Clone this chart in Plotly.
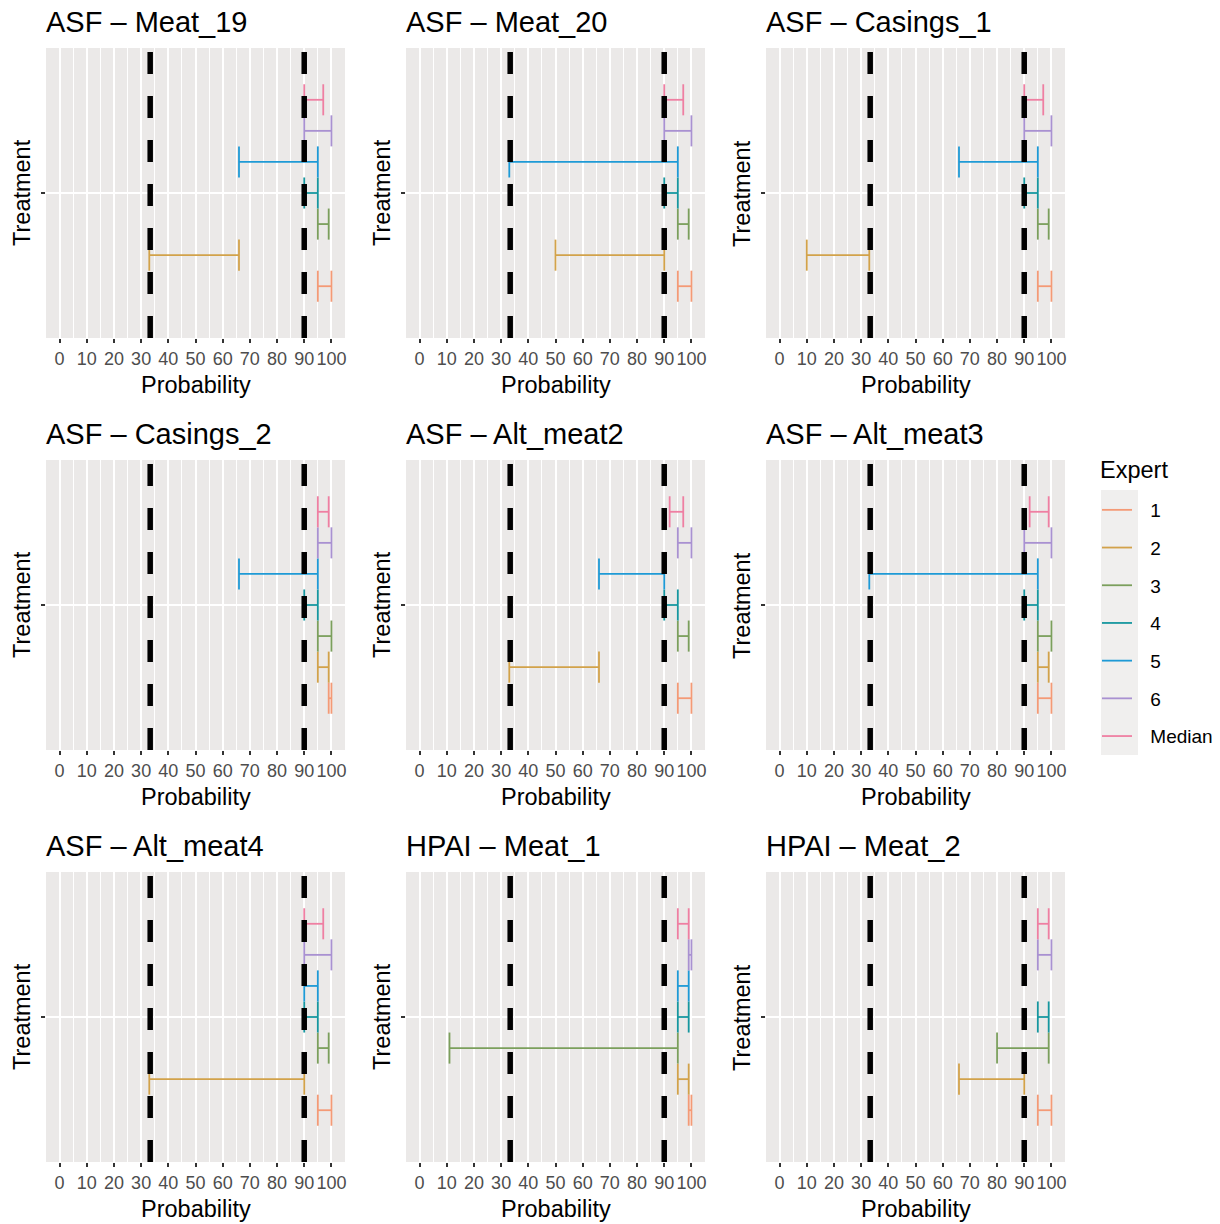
import plotly.graph_objects as go

# ---------------- data ----------------
panels = ["ASF – Meat_19", "ASF – Meat_20", "ASF – Casings_1",
          "ASF – Casings_2", "ASF – Alt_meat2", "ASF – Alt_meat3",
          "ASF – Alt_meat4", "HPAI – Meat_1", "HPAI – Meat_2"]
experts = ["1", "2", "3", "4", "5", "6", "Median"]
colors = ["#F49A76", "#D2A24A", "#7B9F5C", "#17979F", "#1E9AD6", "#A991D1", "#EF7FA2"]

low_1 = [95, 95, 95, 99, 95, 95, 95, 99, 95]
high_1 = [100, 100, 100, 100, 100, 100, 100, 100, 100]
low_2 = [33, 50, 10, 95, 33, 95, 33, 95, 66]
high_2 = [66, 90, 33, 99, 66, 99, 90, 99, 90]
low_3 = [95, 95, 95, 95, 95, 95, 95, 11, 80]
high_3 = [99, 99, 99, 100, 99, 100, 99, 95, 99]
low_4 = [90, 90, 90, 90, 90, 90, 90, 95, 95]
high_4 = [95, 95, 95, 95, 95, 95, 95, 99, 99]
low_5 = [66, 33, 66, 66, 66, 33, 90, 95, None]
high_5 = [95, 95, 95, 95, 90, 95, 95, 99, None]
low_6 = [90, 90, 90, 95, 95, 90, 90, 99, 95]
high_6 = [100, 100, 100, 100, 100, 100, 100, 100, 100]
low_med = [90, 90, 90, 95, 92, 92, 90, 95, 95]
high_med = [97, 97, 97, 99, 97, 99, 97, 99, 99]

thresholds = [33.33, 90]

lows = [low_1, low_2, low_3, low_4, low_5, low_6, low_med]
highs = [high_1, high_2, high_3, high_4, high_5, high_6, high_med]

# ---------------- layout geometry ----------------
# the page body adds an 8px margin, so work in page pixels and subtract it
OFF = 8
W, H = 1212, 1216
col_left = [46, 406, 766]
PW = 299
row_top = [48, 460, 872]
PH = 290
FONT = "Liberation Sans, Arial, sans-serif"
GAP = "\u2002\u2009"  # spacing between legend key and label


def px(xp):
    return (xp - OFF) / W


def py(yp):
    return 1 - (yp - OFF) / H


n = len(experts)
dodge = 0.9
slot = dodge / n

fig = go.Figure()
layout = dict(
    width=W, height=H, autosize=False,
    margin=dict(l=0, r=0, t=0, b=0),
    paper_bgcolor="white", plot_bgcolor="#EBE9E8",
    font=dict(family=FONT, color="black"),
    showlegend=True,
)
shapes = []
annotations = []

for p, title in enumerate(panels):
    r, c = divmod(p, 3)
    sfx = "" if p == 0 else str(p + 1)
    left = col_left[c]
    top = row_top[r]
    for k, e in enumerate(experts):
        lo = lows[k][p]
        hi = highs[k][p]
        if lo is None or hi is None:
            continue
        yc = 1 + (k - (n - 1) / 2) * slot
        xs = [lo, hi, None, lo, lo, None, hi, hi]
        ys = [yc, yc, None, yc - slot / 2, yc + slot / 2, None, yc - slot / 2, yc + slot / 2]
        fig.add_trace(go.Scatter(
            x=xs, y=ys, mode="lines",
            line=dict(color=colors[k], width=1.8),
            name=GAP + e, legendgroup=e, showlegend=(p == 0),
            xaxis="x" + sfx, yaxis="y" + sfx, hoverinfo="skip"))

    layout["xaxis" + sfx] = dict(
        domain=[px(left), px(left + PW)], anchor="y" + sfx,
        range=[-5, 105], tick0=0, dtick=10, tickmode="linear",
        ticks="outside", ticklen=4, tickwidth=1.5, tickcolor="#333333",
        tickfont=dict(size=18, color="#4D4D4D", family=FONT), tickangle=0,
        showgrid=True, gridcolor="white", gridwidth=1.6,
        minor=dict(tick0=0, dtick=5, showgrid=True, gridcolor="white", gridwidth=0.8, ticks=""),
        zeroline=False, showline=False, fixedrange=True)
    layout["yaxis" + sfx] = dict(
        domain=[py(top + PH), py(top)], anchor="x" + sfx,
        range=[0.4, 1.6], tickmode="array", tickvals=[1], ticktext=[""],
        ticks="outside", ticklen=4, tickwidth=1.5, tickcolor="#333333",
        showgrid=True, gridcolor="white", gridwidth=2,
        zeroline=False, showline=False, fixedrange=True)

    for t in thresholds:
        shapes.append(dict(
            type="line", xref="x" + sfx, yref="y" + sfx + " domain",
            x0=t, x1=t, y0=0, y1=1, layer="above",
            line=dict(color="black", width=5.5, dash="22px,22px")))

    annotations.append(dict(
        text=title, xref="paper", yref="paper",
        x=px(left - 2), y=py(top - 26), xanchor="left", yanchor="middle",
        showarrow=False, font=dict(size=29, color="black", family=FONT)))
    annotations.append(dict(
        text="Probability", xref="paper", yref="paper",
        x=px(left + PW / 2), y=py(top + PH + 47),
        xanchor="center", yanchor="middle",
        showarrow=False, font=dict(size=23.5, color="black", family=FONT)))
    annotations.append(dict(
        text="Treatment", xref="paper", yref="paper", textangle=-90,
        x=px(left - 24), y=py(top + PH / 2),
        xanchor="center", yanchor="middle",
        showarrow=False, font=dict(size=23.5, color="black", family=FONT)))

# legend title
annotations.append(dict(
    text="Expert", xref="paper", yref="paper",
    x=px(1098), y=py(470), xanchor="left", yanchor="middle",
    showarrow=False, font=dict(size=23.5, color="black", family=FONT)))

# grey background behind legend keys
shapes.append(dict(type="rect", xref="paper", yref="paper",
                   x0=px(1101), x1=px(1138), y0=py(755), y1=py(490),
                   fillcolor="#F0EFEE", line=dict(width=0), layer="below"))

layout["shapes"] = shapes
layout["annotations"] = annotations
layout["legend"] = dict(
    x=px(1097), y=py(491), xanchor="left", yanchor="top",
    bgcolor="rgba(0,0,0,0)", borderwidth=0,
    font=dict(size=19, family=FONT, color="black"),
    itemwidth=30, tracegroupgap=10, traceorder="grouped")

fig.update_layout(**layout)
fig.write_html("out.html")
